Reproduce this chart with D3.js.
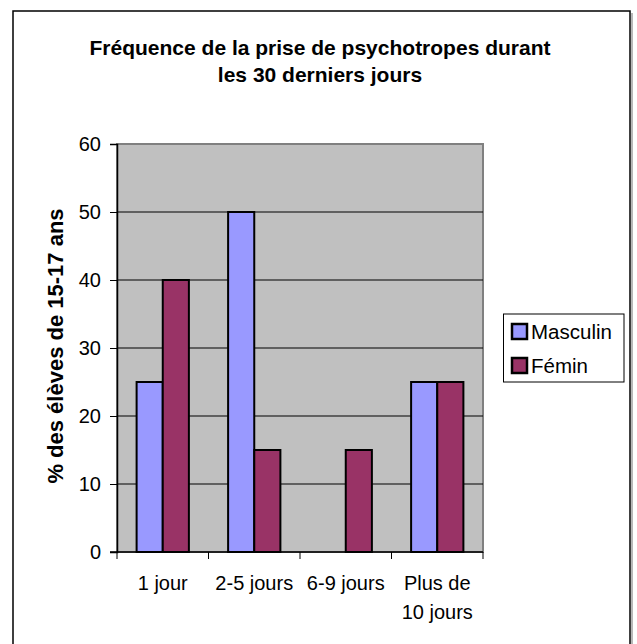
<!DOCTYPE html>
<html>
<head>
<meta charset="utf-8">
<script src="https://cdn.jsdelivr.net/npm/d3@7"></script>
<style>
  body { margin: 0; background: #fff; }
  text { font-family: "Liberation Sans", Arial, sans-serif; }
</style>
</head>
<body>
<svg id="chart" width="637" height="644"></svg>
<script>
var categories = [["1 jour"], ["2-5 jours"], ["6-9 jours"], ["Plus de", "10 jours"]];
var masculin = [25, 50, 0, 25];
var feminin = [40, 15, 15, 25];
var series = ["Masculin", "Fémin"];
var colors = ["#9999ff", "#993366"];
var yTicks = [0, 10, 20, 30, 40, 50, 60];

var svg = d3.select("#chart");

// cadre extérieur
svg.append("rect")
    .attr("x", 13).attr("y", 11)
    .attr("width", 617).attr("height", 640)
    .attr("fill", "#fff")
    .attr("stroke", "#000")
    .attr("stroke-width", 1.5);
svg.append("line")
    .attr("x1", 632).attr("x2", 632)
    .attr("y1", 13).attr("y2", 644)
    .attr("stroke", "#a0a0a0").attr("stroke-width", 1.5);

svg.append("text")
    .attr("x", 320).attr("y", 55)
    .attr("text-anchor", "middle")
    .attr("font-size", "21px").attr("font-weight", "bold")
    .text("Fréquence de la prise de psychotropes durant");
svg.append("text")
    .attr("x", 320).attr("y", 82)
    .attr("text-anchor", "middle")
    .attr("font-size", "21px").attr("font-weight", "bold")
    .text("les 30 derniers jours");

var plotLeft = 117, plotRight = 483, plotTop = 144, plotBottom = 552;

var x = d3.scaleBand()
    .domain(d3.range(categories.length))
    .range([plotLeft, plotRight]);

// largeur d'intervalle 150 %
var xInner = d3.scaleBand()
    .domain(d3.range(series.length))
    .range([0, x.bandwidth()])
    .paddingInner(0)
    .paddingOuter(0.75);

var y = d3.scaleLinear()
    .domain([0, 60])
    .range([plotBottom, plotTop]);

// fond du graphique
svg.append("rect")
    .attr("x", plotLeft).attr("y", plotTop)
    .attr("width", plotRight - plotLeft).attr("height", plotBottom - plotTop)
    .attr("fill", "#c0c0c0")
    .attr("stroke", "#808080")
    .attr("stroke-width", 2);

// grille
svg.append("g")
  .selectAll("line")
  .data(yTicks.filter(d => d > 0 && d < 60))
  .enter().append("line")
    .attr("x1", plotLeft).attr("x2", plotRight)
    .attr("y1", d => y(d)).attr("y2", d => y(d))
    .attr("stroke", "#000").attr("stroke-width", 1);

var data = [];
for (var i = 0; i < categories.length; i++) {
  data.push({ cat: i, s: 0, v: masculin[i] });
  data.push({ cat: i, s: 1, v: feminin[i] });
}

svg.append("g")
  .selectAll("rect")
  .data(data.filter(d => d.v > 0))
  .enter().append("rect")
    .attr("x", d => x(d.cat) + xInner(d.s))
    .attr("y", d => y(d.v))
    .attr("width", xInner.bandwidth())
    .attr("height", d => y(0) - y(d.v))
    .attr("fill", d => colors[d.s])
    .attr("stroke", "#000")
    .attr("stroke-width", 2);

// axe Y
var yAxis = svg.append("g")
    .attr("transform", "translate(" + plotLeft + ",0)")
    .call(d3.axisLeft(y).tickValues(yTicks).tickSize(7).tickPadding(9));
yAxis.select(".domain").attr("stroke", "#000").attr("stroke-width", 1.5);
yAxis.selectAll("line").attr("stroke", "#000");
yAxis.selectAll("text").attr("font-size", "20px").attr("fill", "#000")
    .style("font-family", "'Liberation Sans', Arial, sans-serif");

// axe X
var xAxis = svg.append("g")
    .attr("transform", "translate(0," + plotBottom + ")");
xAxis.append("line")
    .attr("x1", plotLeft - 7).attr("x2", plotRight)
    .attr("y1", 0).attr("y2", 0)
    .attr("stroke", "#000").attr("stroke-width", 1.5);
xAxis.selectAll(".tick")
  .data(d3.range(categories.length + 1))
  .enter().append("line")
    .attr("x1", d => d < categories.length ? x(d) : plotRight)
    .attr("x2", d => d < categories.length ? x(d) : plotRight)
    .attr("y1", 0).attr("y2", 7)
    .attr("stroke", "#000");

var labels = svg.append("g")
  .selectAll("text")
  .data(categories)
  .enter().append("text")
    .attr("x", (d, i) => x(i) + x.bandwidth() / 2)
    .attr("y", 590)
    .attr("text-anchor", "middle")
    .attr("font-size", "20px");
labels.selectAll("tspan")
  .data(d => d)
  .enter().append("tspan")
    .attr("x", function () { return d3.select(this.parentNode).attr("x"); })
    .attr("dy", (d, i) => i === 0 ? 0 : 29)
    .text(d => d);

// titre axe Y
svg.append("text")
    .attr("transform", "translate(63,346) rotate(-90)")
    .attr("text-anchor", "middle")
    .attr("font-size", "22px").attr("font-weight", "bold")
    .text("% des élèves de 15-17 ans");

// légende
var legend = svg.append("g");
legend.append("rect")
    .attr("x", 503.5).attr("y", 314)
    .attr("width", 120.5).attr("height", 68)
    .attr("fill", "#fff")
    .attr("stroke", "#000").attr("stroke-width", 1);
var items = legend.selectAll(".item")
  .data(series)
  .enter().append("g")
    .attr("transform", (d, i) => "translate(512," + (339 + i * 34) + ")");
items.append("rect")
    .attr("x", 0).attr("y", -15)
    .attr("width", 15).attr("height", 15)
    .attr("fill", (d, i) => colors[i])
    .attr("stroke", "#000").attr("stroke-width", 2.5);
items.append("text")
    .attr("x", 19).attr("y", 0)
    .attr("font-size", "20.5px")
    .text(d => d);
</script>
</body>
</html>
